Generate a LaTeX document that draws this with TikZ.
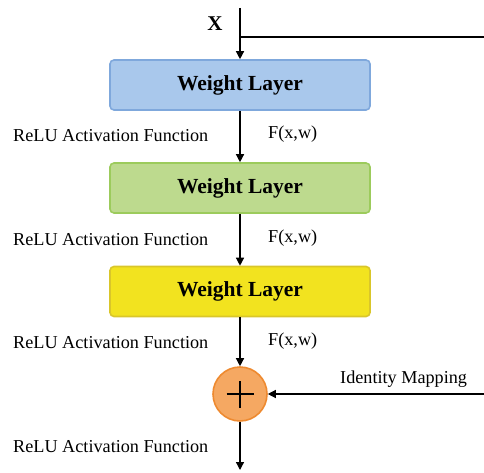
\documentclass[tikz,border=0pt]{standalone}
\usepackage{fontspec}
\setmainfont{Liberation Serif}
\usetikzlibrary{arrows.meta}
\definecolor{blueFill}{HTML}{A9C8EC}
\definecolor{blueEdge}{HTML}{7FA8DC}
\definecolor{greenFill}{HTML}{BDDA8E}
\definecolor{greenEdge}{HTML}{9CCB5C}
\definecolor{yellowFill}{HTML}{F2E31F}
\definecolor{yellowEdge}{HTML}{D9C62A}
\definecolor{orangeFill}{HTML}{F5A862}
\definecolor{orangeEdge}{HTML}{EE8A30}
\begin{document}
\begin{tikzpicture}[x=1pt,y=-1pt,
  layer/.style={draw=#1Edge, fill=#1Fill, line width=1.6pt, rounded corners=4pt,
    minimum width=260pt, minimum height=50pt, inner sep=0pt,
    font=\fontsize{21.5}{24}\selectfont\bfseries},
  lbl/.style={font=\fontsize{18.2}{21}\selectfont, inner sep=0pt},
  flow/.style={line width=1.3pt, -{Triangle[length=8pt,width=8pt]}},
  wire/.style={line width=1.3pt}]
\useasboundingbox (0,0) rectangle (484,473);
% input and shortcut branch
\coordinate (top) at (240,8);
\coordinate (fork) at (240,37);
\coordinate (edgeTop) at (484,37);
\coordinate (edgeMid) at (484,394);
\coordinate (out) at (240,470);
\node[font=\fontsize{21}{24}\selectfont\bfseries, inner sep=0pt] (xin) at (215,24) {X};
% weight layers
\node[layer=blue] (w1) at (240,85) {Weight Layer};
\node[layer=green] (w2) at (240,188) {Weight Layer};
\node[layer=yellow] (w3) at (240,291.5) {Weight Layer};
% summation node
\node[circle, draw=orangeEdge, fill=orangeFill, line width=1.6pt, minimum size=54pt, inner sep=0pt] (sum) at (240,394) {};
\draw[line width=1.4pt] ([xshift=-13.5pt]sum.center) -- ([xshift=13.5pt]sum.center)
  ([yshift=-13.5pt]sum.center) -- ([yshift=13.5pt]sum.center);
% connectors
\draw[wire] (top) -- (fork) -- (edgeTop);
\draw[flow] (fork) -- (w1.north);
\draw[flow] (w1.south) -- (w2.north);
\draw[flow] (w2.south) -- (w3.north);
\draw[flow] (w3.south) -- (sum.north);
\draw[flow] (edgeMid) -- (sum.east);
\draw[flow] (sum.south) -- (out);
% labels
\foreach \y/\n in {136/a,240/b,343/c,447/d}
  \node[lbl, anchor=west] (relu\n) at (13,\y) {ReLU Activation Function};
\foreach \y/\n in {134/a,238/b,341/c}
  \node[lbl, anchor=west] (f\n) at (268,\y) {F(x,w)};
\node[lbl, anchor=west] (ident) at (340,379) {Identity Mapping};
\end{tikzpicture}
\end{document}
